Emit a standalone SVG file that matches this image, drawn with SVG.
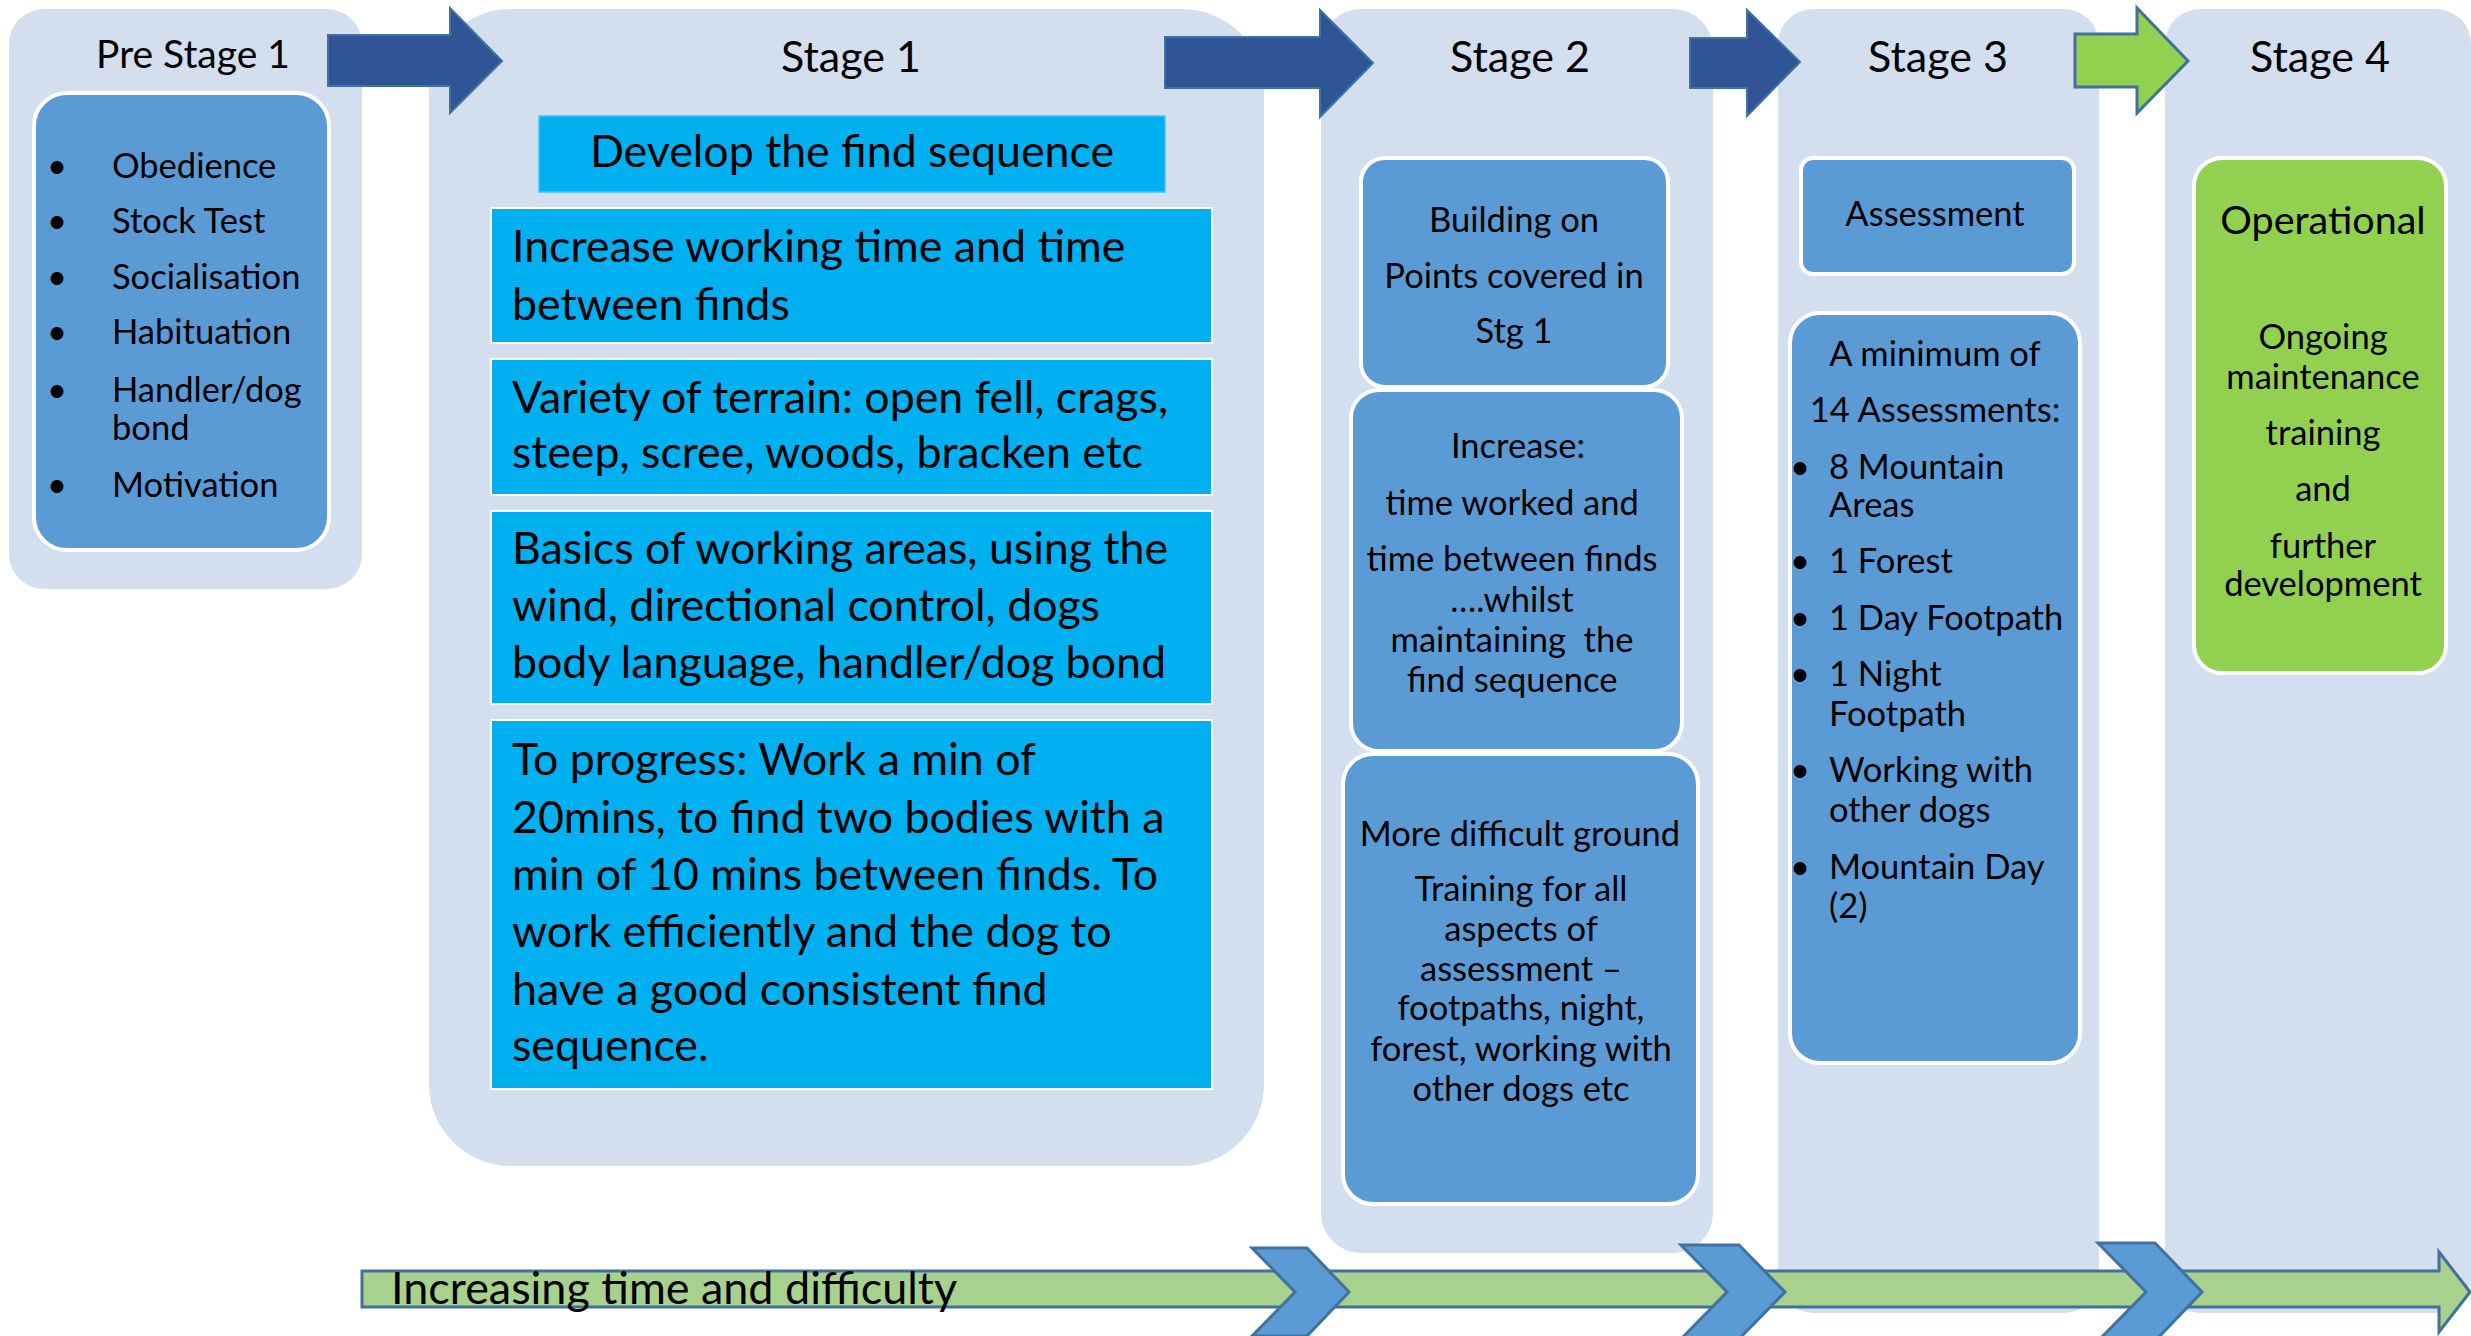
<svg xmlns="http://www.w3.org/2000/svg" width="2471" height="1336" viewBox="0 0 2471 1336">
  <style>
    text { font-family: Lato, "Open Sans", "Liberation Sans", sans-serif; fill: #000; }
    .stage { fill: #D3DEEF; }
    .inner { fill: #5B9BD5; stroke: #FFFFFF; stroke-width: 4; }
    .cyan { fill: #00B0F0; stroke: #FFFFFF; stroke-width: 2; }
    .green { fill: #92D050; stroke: #FFFFFF; stroke-width: 4; }
    .title { font-size: 43px; text-anchor: middle; }
    .title.small { font-size: 39px; }
    .big { font-size: 44.7px; }
    .body { font-size: 34.5px; }
    .mid { text-anchor: middle; }
    .dark-arrow { fill: #2F5597; stroke: #41719C; stroke-width: 2; }
    .green-arrow { fill: #92D050; stroke: #41719C; stroke-width: 3; }
    .band { fill: #A9D18E; stroke: #41719C; stroke-width: 3; }
    .chevron { fill: #5B9BD5; stroke: #41719C; stroke-width: 3; }
  </style>

  <!-- Pre Stage 1 -->
  <g id="pre-stage-1">
    <rect class="stage" x="9" y="9" width="353" height="580" rx="35"/>
    <text class="title small" x="193" y="68">Pre Stage 1</text>
    <rect class="inner" x="34" y="93" width="295" height="457" rx="33"/>
    <g class="body">
      <text class="mid" x="57" y="178">•</text><text x="112" y="178">Obedience</text>
      <text class="mid" x="57" y="233">•</text><text x="112" y="233">Stock Test</text>
      <text class="mid" x="57" y="289">•</text><text x="112" y="289">Socialisation</text>
      <text class="mid" x="57" y="344">•</text><text x="112" y="344">Habituation</text>
      <text class="mid" x="57" y="402">•</text><text x="112" y="402">Handler/dog</text>
      <text x="112" y="440">bond</text>
      <text class="mid" x="57" y="497">•</text><text x="112" y="497">Motivation</text>
    </g>
  </g>

  <!-- Stage 1 -->
  <g id="stage-1">
    <rect class="stage" x="429" y="9" width="835" height="1157" rx="82"/>
    <text class="title" x="851" y="72">Stage 1</text>
    <g id="develop-find-sequence">
      <rect x="539" y="116" width="626" height="76" fill="#00B0F0" stroke="#3FC3F2" stroke-width="1.5"/>
      <text class="big mid" x="852" y="167">Develop the find sequence</text>
    </g>
    <g id="working-time">
      <rect class="cyan" x="491" y="208" width="721" height="135"/>
      <text class="big" x="512" y="262">Increase working time and time</text>
      <text class="big" x="512" y="320">between finds</text>
    </g>
    <g id="terrain">
      <rect class="cyan" x="491" y="359" width="721" height="136"/>
      <text class="big" x="512" y="413">Variety of terrain: open fell, crags,</text>
      <text class="big" x="512" y="468">steep, scree, woods, bracken etc</text>
    </g>
    <g id="working-areas">
      <rect class="cyan" x="491" y="511" width="721" height="193"/>
      <text class="big" x="512" y="564">Basics of working areas, using the</text>
      <text class="big" x="512" y="621">wind, directional control, dogs</text>
      <text class="big" x="512" y="678">body language, handler/dog bond</text>
    </g>
    <g id="to-progress">
      <rect class="cyan" x="491" y="720" width="721" height="369"/>
      <text class="big" x="512" y="775">To progress: Work a min of</text>
      <text class="big" x="512" y="833">20mins, to find two bodies with a</text>
      <text class="big" x="512" y="890">min of 10 mins between finds. To</text>
      <text class="big" x="512" y="947">work efficiently and the dog to</text>
      <text class="big" x="512" y="1005">have a good consistent find</text>
      <text class="big" x="512" y="1061">sequence.</text>
    </g>
  </g>

  <!-- Stage 2 -->
  <g id="stage-2">
    <rect class="stage" x="1321" y="9" width="392" height="1244" rx="40"/>
    <text class="title" x="1520" y="72">Stage 2</text>
    <g id="building-on">
      <rect class="inner" x="1361" y="158" width="307" height="229" rx="24"/>
      <g class="body mid">
        <text x="1514" y="232">Building on</text>
        <text x="1514" y="288">Points covered in</text>
        <text x="1514" y="343">Stg 1</text>
      </g>
    </g>
    <g id="increase">
      <rect class="inner" x="1351" y="390" width="331" height="361" rx="28"/>
      <g class="body mid">
        <text x="1518" y="458">Increase:</text>
        <text x="1512" y="515">time worked and</text>
        <text x="1512" y="571">time between finds</text>
        <text x="1512" y="612">….whilst</text>
        <text x="1512" y="652" xml:space="preserve">maintaining  the</text>
        <text x="1512" y="692">find sequence</text>
      </g>
    </g>
    <g id="more-difficult">
      <rect class="inner" x="1343" y="754" width="355" height="450" rx="30"/>
      <g class="body mid">
        <text x="1520" y="846">More difficult ground</text>
        <text x="1521" y="901">Training for all</text>
        <text x="1521" y="941">aspects of</text>
        <text x="1521" y="981">assessment –</text>
        <text x="1521" y="1020">footpaths, night,</text>
        <text x="1521" y="1061">forest, working with</text>
        <text x="1521" y="1101">other dogs etc</text>
      </g>
    </g>
  </g>

  <!-- Stage 3 -->
  <g id="stage-3">
    <rect class="stage" x="1778" y="9" width="321" height="1304" rx="35"/>
    <text class="title" x="1938" y="72">Stage 3</text>
    <g id="assessment">
      <rect class="inner" x="1801" y="158" width="273" height="116" rx="12"/>
      <text class="body mid" x="1935" y="226">Assessment</text>
    </g>
    <g id="assessment-list">
      <rect class="inner" x="1790" y="313" width="290" height="750" rx="30"/>
      <g class="body">
        <text class="mid" x="1935" y="366">A minimum of</text>
        <text class="mid" x="1935" y="422">14 Assessments:</text>
        <text class="mid" x="1800" y="479">•</text><text x="1829" y="479">8 Mountain</text>
        <text x="1829" y="517">Areas</text>
        <text class="mid" x="1800" y="573">•</text><text x="1829" y="573">1 Forest</text>
        <text class="mid" x="1800" y="630">•</text><text x="1829" y="630">1 Day Footpath</text>
        <text class="mid" x="1800" y="686">•</text><text x="1829" y="686">1 Night</text>
        <text x="1829" y="726">Footpath</text>
        <text class="mid" x="1800" y="782">•</text><text x="1829" y="782">Working with</text>
        <text x="1829" y="822">other dogs</text>
        <text class="mid" x="1800" y="879">•</text><text x="1829" y="879">Mountain Day</text>
        <text x="1829" y="918">(2)</text>
      </g>
    </g>
  </g>

  <!-- Stage 4 -->
  <g id="stage-4">
    <rect class="stage" x="2165" y="9" width="306" height="1304" rx="35"/>
    <text class="title" x="2320" y="72">Stage 4</text>
    <g id="operational">
      <rect class="green" x="2194" y="158" width="252" height="515" rx="28"/>
      <text class="mid" x="2323" y="234" font-size="39.5">Operational</text>
      <g class="body mid">
        <text x="2323" y="349">Ongoing</text>
        <text x="2323" y="389">maintenance</text>
        <text x="2323" y="445">training</text>
        <text x="2323" y="501">and</text>
        <text x="2323" y="558">further</text>
        <text x="2323" y="596">development</text>
      </g>
    </g>
  </g>

  <!-- Connectors: stage-to-stage arrows and the progression band -->
  <g id="connectors">
    <polygon class="dark-arrow" points="328,35 450,35 450,8 502,61 450,113 450,86 328,86"/>
    <polygon class="dark-arrow" points="1165,37 1320,37 1320,10 1373,63 1320,117 1320,88 1165,88"/>
    <polygon class="dark-arrow" points="1690,38 1747,38 1747,10 1800,62 1747,116 1747,88 1690,88"/>
    <polygon class="green-arrow" points="2075,34 2137,34 2137,8 2188,61 2137,113 2137,87 2075,87"/>

    <g id="progression-band">
      <polygon class="band" points="362,1271 2439,1271 2439,1252 2470,1292 2439,1332 2439,1307 362,1307"/>
      <text x="391" y="1304" font-size="44.9">Increasing time and difficulty</text>
      <polygon class="chevron" points="1252,1248 1307,1248 1349,1292 1307,1336 1252,1336 1295,1292"/>
      <polygon class="chevron" points="1681,1245 1739,1245 1785,1292 1739,1339 1681,1339 1727,1292"/>
      <polygon class="chevron" points="2098,1243 2155,1243 2202,1292 2155,1341 2098,1341 2146,1292"/>
    </g>
  </g>
</svg>
